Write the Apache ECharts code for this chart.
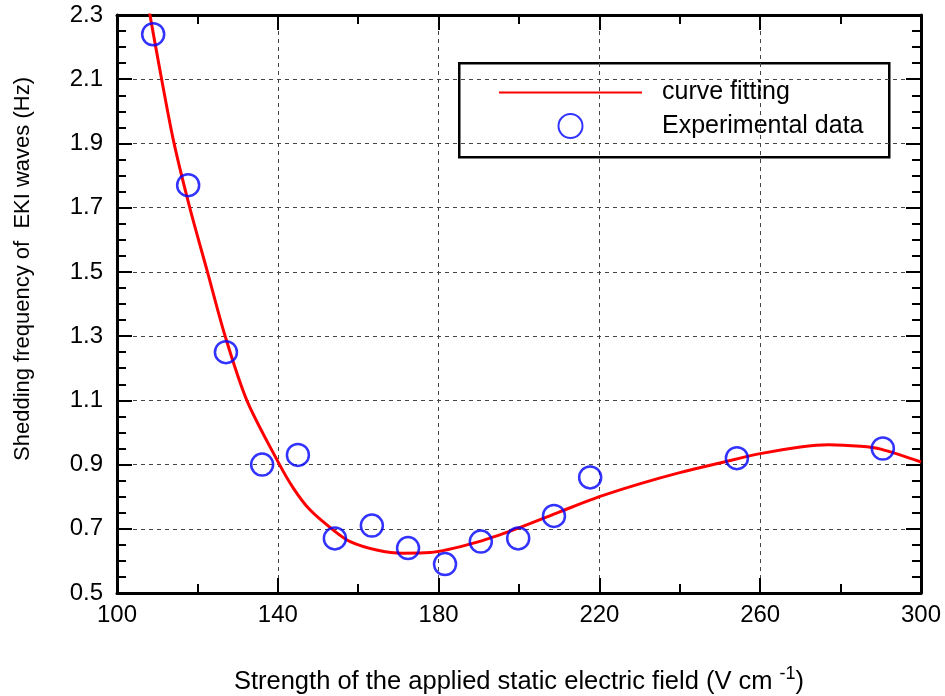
<!DOCTYPE html>
<html>
<head>
<meta charset="utf-8">
<script src="https://cdn.jsdelivr.net/npm/echarts@6/dist/echarts.min.js"></script>
<style>
    html, body {margin: 0; padding: 0; background: #fff;}
    #chart {width: 945px; height: 696px;}
</style>
</head>
<body>
<div id="chart"></div>
<script>
// experimental points (field strength, frequency)
var expX = [109, 117.7, 127.1, 136.1, 145.0, 154.2, 163.4, 172.4, 181.6, 190.5, 199.8, 208.7, 217.7, 254.2, 290.5];
var expY = [2.24, 1.77, 1.25, 0.90, 0.93, 0.67, 0.71, 0.64, 0.59, 0.66, 0.67, 0.74, 0.86, 0.92, 0.95];

// fitted curve
var fitX = [107.5, 108.2, 111.1, 114.2, 118.1, 122.5, 126.9, 132.3, 140, 143.9, 148, 153.8, 158, 164.6, 171.2, 177.9, 190, 200, 210, 220, 230, 240, 250, 260, 270, 277, 285, 290, 300];
var fitY = [2.35, 2.30, 2.10, 1.90, 1.70, 1.50, 1.30, 1.10, 0.91, 0.826, 0.759, 0.696, 0.66, 0.634, 0.624, 0.626, 0.660, 0.703, 0.752, 0.80, 0.840, 0.875, 0.905, 0.934, 0.955, 0.962, 0.957, 0.948, 0.908];

var font = 'Liberation Sans, Arial, sans-serif';

function zip(a, b) {
    var out = [];
    for (var i = 0; i < a.length; i++) {
        out.push([a[i], b[i]]);
    }
    return out;
}

var myChart = echarts.init(document.getElementById('chart'));

var xCommon = {
    type: 'value', min: 100, max: 300, interval: 40,
    axisLine: {show: true, onZero: false, lineStyle: {color: '#000', width: 3}},
    axisTick: {show: true, inside: true, length: 15, lineStyle: {color: '#000', width: 2}},
    minorTick: {show: true, splitNumber: 2, length: 9, lineStyle: {color: '#000', width: 2}}
};
var yCommon = {
    type: 'value', min: 0.5, max: 2.3, interval: 0.2,
    axisLine: {show: true, onZero: false, lineStyle: {color: '#000', width: 3}},
    axisTick: {show: true, inside: true, length: 15, lineStyle: {color: '#000', width: 2}},
    minorTick: {show: true, splitNumber: 4, length: 9, lineStyle: {color: '#000', width: 2}}
};

var option = {
    backgroundColor: '#fff',
    animation: false,
    grid: {left: 117, right: 24, top: 15, bottom: 103, containLabel: false, outerBoundsMode: 'none'},
    legend: {
        orient: 'vertical',
        left: 493, top: 75,
        itemWidth: 143, itemHeight: 24, itemGap: 8,
        textStyle: {fontFamily: font, fontSize: 25, lineHeight: 24, color: '#000', padding: [0, 0, 0, 15]},
        data: [
            {name: 'curve fitting', itemStyle: {opacity: 0}},
            {name: 'Experimental data'}
        ]
    },
    graphic: [
        {type: 'rect', left: 458, top: 62, z: 0,
            shape: {width: 430, height: 94},
            style: {fill: '#fff', stroke: '#000', lineWidth: 2.5}}
    ],
    xAxis: [
        Object.assign({}, xCommon, {
            position: 'bottom',
            axisLabel: {color: '#000', fontFamily: font, fontSize: 24, margin: 10},
            splitLine: {show: true, lineStyle: {color: '#444', type: [4, 4], width: 1}},
            name: 'Strength of the applied static electric field (V cm {sup|-1})',
            nameLocation: 'middle', nameGap: 72,
            nameTextStyle: {color: '#000', fontFamily: font, fontSize: 25.5,
                rich: {sup: {fontFamily: font, fontSize: 18, color: '#000', verticalAlign: 'top', padding: [0, 0, 16, 0]}}}
        }),
        Object.assign({}, xCommon, {
            position: 'top',
            axisLabel: {show: false},
            splitLine: {show: false}
        })
    ],
    yAxis: [
        Object.assign({}, yCommon, {
            position: 'left',
            axisLabel: {color: '#000', fontFamily: font, fontSize: 24, margin: 14,
                formatter: function (v) { return v.toFixed(1); }},
            splitLine: {show: true, lineStyle: {color: '#444', type: [4, 4], width: 1}},
            name: 'Shedding frequency of  EKI waves (Hz)',
            nameLocation: 'middle', nameGap: 83,
            nameTextStyle: {color: '#000', fontFamily: font, fontSize: 22, padding: [0, 0, 0, 70]}
        }),
        Object.assign({}, yCommon, {
            position: 'right',
            axisLabel: {show: false},
            splitLine: {show: false}
        })
    ],
    series: [
        {
            name: 'curve fitting',
            type: 'line',
            xAxisIndex: 0, yAxisIndex: 0,
            smooth: 0.3,
            symbol: 'none',
            clip: true,
            lineStyle: {color: '#ff0000', width: 3},
            itemStyle: {color: '#ff0000'},
            data: zip(fitX, fitY),
            z: 3
        },
        {
            name: 'Experimental data',
            type: 'scatter',
            xAxisIndex: 0, yAxisIndex: 0,
            symbol: 'circle',
            symbolSize: 22,
            itemStyle: {color: 'rgba(0,0,0,0)', borderColor: '#0000ff', borderWidth: 2.5},
            data: zip(expX, expY),
            z: 4
        }
    ]
};
myChart.setOption(option);
</script>
</body>
</html>
